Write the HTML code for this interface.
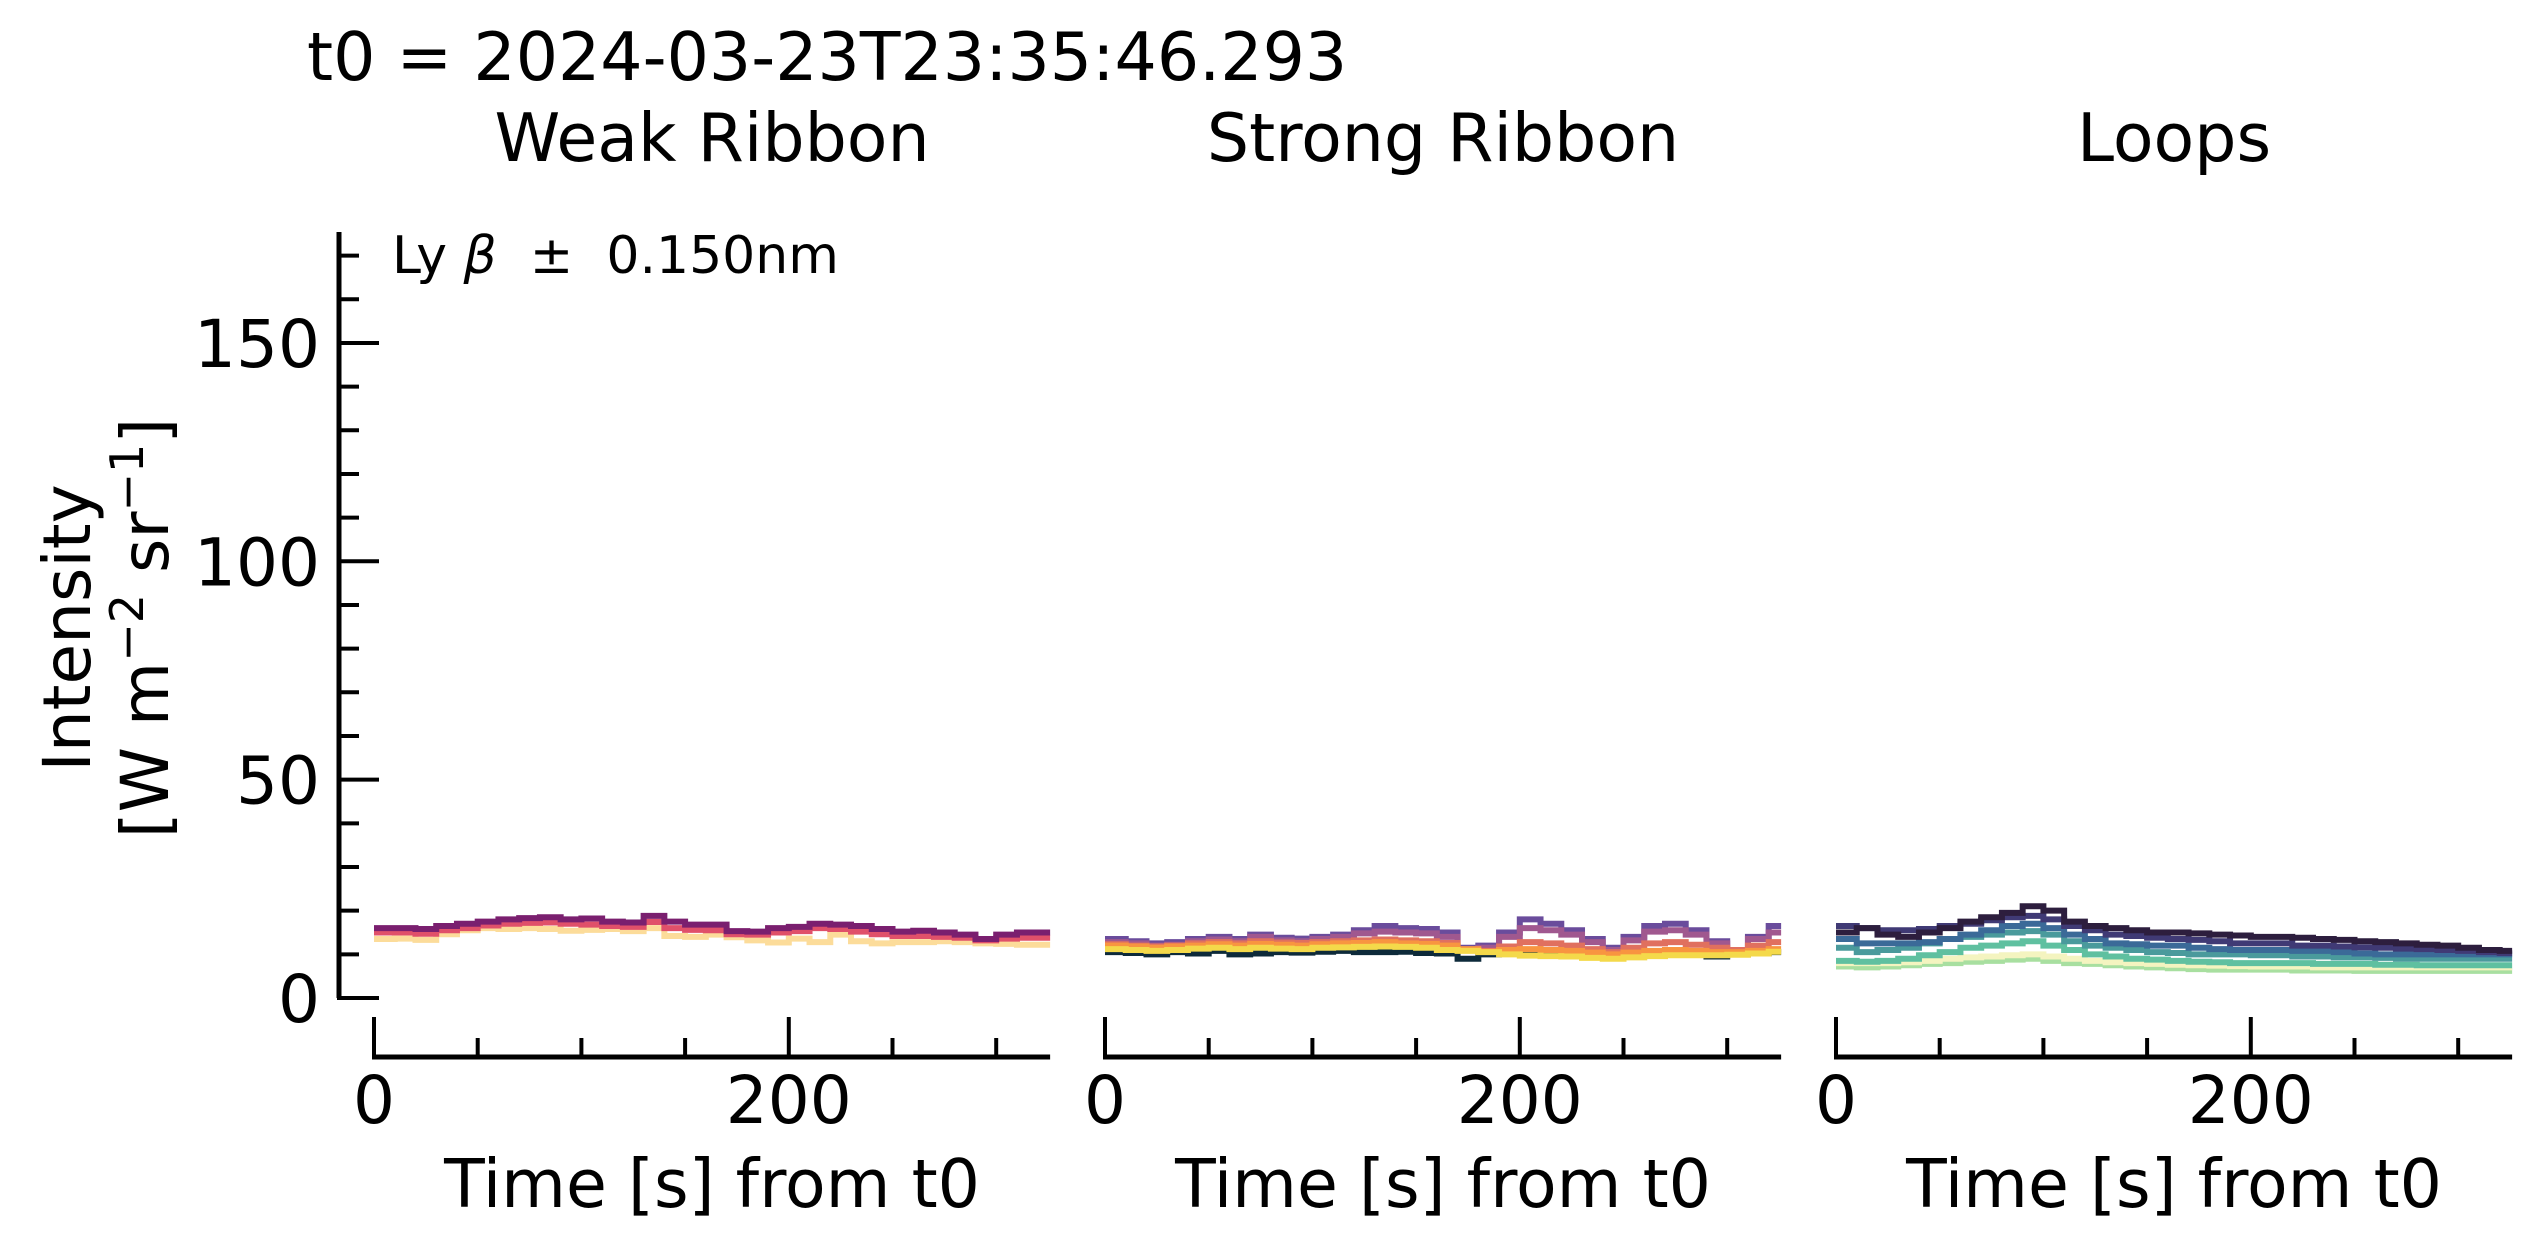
<!DOCTYPE html>
<html><head><meta charset="utf-8"><style>
html,body{margin:0;padding:0;background:#fff;}
svg{display:block;font-family:"DejaVu Sans","Liberation Sans",sans-serif;}
</style></head><body>
<svg id="chart" width="2541" height="1250" viewBox="0 0 2541 1250" xmlns="http://www.w3.org/2000/svg">
<rect width="2541" height="1250" fill="#fff"/>
<text x="307" y="80" font-size="66.5">t0 = 2024-03-23T23:35:46.293</text>
<text transform="translate(90,628) rotate(-90)" text-anchor="middle" font-size="66">Intensity</text>
<text transform="translate(168,628) rotate(-90)" text-anchor="middle" font-size="66">[W m<tspan dy="-25" font-size="46">−2</tspan><tspan dy="25"> sr</tspan><tspan dy="-25" font-size="46">−1</tspan><tspan dy="25">]</tspan></text>
<text x="392" y="273" font-size="52" xml:space="preserve">Ly <tspan font-style="italic">β</tspan>  ±  0.150nm</text>
<g id="plots"></g>
</svg>
<script>
const times=[0,10,20,30,40,50,60,70,80,90,100,110,120,130,140,150,160,170,180,190,200,210,220,230,240,250,260,270,280,290,300,310,320];
const panelTitles=["Weak Ribbon","Strong Ribbon","Loops"];
const yTicks=[0,50,100,150];
const xTicks=[0,200];
// Weak ribbon
const weakYellow=[13.5,13.6,13.3,14.6,15.5,16,15.8,16,15.8,15.4,15.6,15.8,15.3,16,14.2,14,14.5,13.9,13.2,12.7,13.6,12.8,14.5,13,12.5,12.8,12.8,13,12.8,12.5,12.4,12.2,12.2];
const weakPink=[15,15,14.7,15.5,16,16.6,17,17.2,17.3,17,16.8,16.5,16.3,17.4,16,15.6,15.5,14.6,14.5,15,15.3,16,15.8,15.2,14.6,14.2,14.2,14,13.8,13.2,13.6,13.8,13.8];
const weakPurple=[16,16,15.8,16.5,17,17.5,18,18.3,18.5,18,18.2,17.5,17.3,18.8,17.5,16.8,16.8,15.3,15.2,16,16.3,17,16.8,16.5,15.8,15.2,15.4,15,14.5,13.5,14.5,15,15];
// Strong ribbon
const strongNavy=[10.5,10.3,10,10.5,10.2,10.8,10,10.2,10.5,10.4,10.6,10.8,10.5,10.5,10.6,10.3,10.2,9,10,10.5,10.5,10.5,10.5,10.5,10.2,10.5,10.5,10.5,10.3,9.5,10,10.2,10.5];
const strongPurple=[13.5,13,12.5,12.8,13.5,14,13.5,14.5,13.8,13.6,14,14.5,15.5,16.5,16,15.8,15,11.5,12,15,18,17,15.5,13.5,11.5,14,16.5,17,15.5,13,11,14,16.5];
const strongMauve=[12.8,12.5,12,12.2,13,13.4,13,14,13.2,13,13.5,14,14.8,15.2,15,14.8,14,11,11.5,14,16,15.5,14.5,12.8,11,13.2,15.2,15.5,14.5,12.5,11,13.5,15];
const strongSalmon=[12.3,12,11.8,12,12.5,12.8,12.5,13,12.7,12.6,12.8,13,13.2,13.4,13.2,13,12.6,11,10.8,11.8,12.8,12.5,12,11.2,10.5,11.5,12.5,12.8,12.2,11.5,11,12,12.8];
const strongOrange=[12,11.8,11.5,11.8,12,12.3,12,12.4,12.2,12,12.3,12.5,12.6,12.8,12.5,12.4,12,11.2,10.6,11,11.2,11,10.8,10.4,10,10.4,10.8,11,10.8,10.5,10.5,10.8,11.2];
const strongYellow=[11.2,11,10.8,11,11.3,11.5,11.2,11.5,11.3,11.2,11.5,11.6,11.7,11.8,11.7,11.5,11,10.8,10.5,10,9.7,9.6,9.5,9.2,9,9.3,9.6,9.8,9.8,9.8,9.9,10.2,10.6];
// Loops
const loopsLight=[7.2,7,7.2,7.5,7.8,8,8.3,8.5,8.8,9,8.5,8,7.8,7.5,7.2,7,6.8,6.6,6.5,6.5,6.5,6.5,6.3,6.3,6.3,6.2,6.2,6.2,6.2,6.2,6.2,6.2,6.2];
const loopsPale=[8,8,8,8.2,8.5,9,9.3,9.5,9.8,10,9.5,9,8.5,8.2,8,7.8,7.6,7.5,7.4,7.3,7.2,7.2,7.2,7,7,7,7,7,7,7,7,7,7];
const loopsGreen=[8.5,8.3,8.5,9,9.8,10.5,11.5,12,12.5,13,12,11,10,9.5,9,8.8,8.5,8.3,8.2,8,8,8,8,7.8,7.8,7.8,7.6,7.6,7.5,7.5,7.5,7.5,7.5];
const loopsTeal=[11.5,10.5,11,11.5,12.5,13.5,14,14.5,15,15.3,14.5,13,12,11.5,11,10.5,10.3,10,10,10,9.8,9.8,9.5,9.5,9.3,9.3,9.2,9,9,9,9,9,9];
const loopsBlue=[13.5,12.5,12.5,12.5,12.8,13.5,14.5,15.5,16.5,17,16,14.5,13.5,12.5,12.3,12,12,11.5,11.2,11,11,11,10.8,10.8,10.5,10.2,10,10,10,10,10,10,10];
const loopsIndigo=[16.5,16,15.5,15.5,15.8,16.5,17,17.8,18.5,18.8,18,16.5,15.5,14.5,14.2,13.8,13.5,13.3,13,12.5,12.5,12.5,12,12,11.8,11.6,11.5,11.3,11.2,11,10.8,10.5,10.3];
const loopsDark=[15,16,14.5,14,15,16,17.5,18.5,19.5,21,20,17.5,16.5,16,15.5,15,15,14.8,14.5,14.3,14,14,13.8,13.5,13.3,13,12.8,12.5,12.2,12,11.5,11,10.8];

const panels=[
 {x0:374,series:[[weakYellow,"#fcdc9a"],[weakPink,"#e0506a"],[weakPurple,"#7a1f6f"]]},
 {x0:1105,series:[[strongNavy,"#0d2a3a"],[strongPurple,"#6a4c9c"],[strongMauve,"#a0588f"],[strongSalmon,"#e0705f"],[strongOrange,"#f89540"],[strongYellow,"#f4d94a"]]},
 {x0:1836,series:[[loopsLight,"#a8dfa0"],[loopsPale,"#f4f4c0"],[loopsGreen,"#5fc0a0"],[loopsTeal,"#4a9a9c"],[loopsBlue,"#3b6a98"],[loopsIndigo,"#403a75"],[loopsDark,"#2d1e3e"]]}
];
const NS="http://www.w3.org/2000/svg";
const g=document.getElementById("plots");
const XMAX=326, PXS=2.074;
const yScale=v=>998-v*4.367;
function mk(tag,attrs){const e=document.createElementNS(NS,tag);for(const k in attrs)e.setAttribute(k,attrs[k]);g.appendChild(e);return e;}
let ya=mk("line",{x1:339,y1:998,x2:339,y2:232,stroke:"#000","stroke-width":5});


for(let v=0;v<=170;v+=10){
 const major=yTicks.includes(v);
 const t=mk("line",{x1:337,x2:major?379:359,y1:yScale(v),y2:yScale(v),stroke:"#000","stroke-width":4});
 
 
}
yTicks.forEach(v=>{
 const t=mk("text",{x:320,y:yScale(v)+24,"text-anchor":"end","font-size":66});
 t.textContent=v;
 
 
});
panels.forEach((p,i)=>{
 const xs=s=>p.x0+s*PXS;
 const title=mk("text",{x:xs(XMAX/2),y:161,"text-anchor":"middle","font-size":66.5});
 title.textContent=panelTitles[i];
 
 
 p.series.forEach(([vals,col])=>{
  let d="";
  vals.forEach((v,j)=>{const x=xs(times[j]);const y=yScale(v);
   if(j===0)d+=`M${x},${y}`;else d+=`H${x}V${y}`;});
  d+=`H${xs(XMAX)}`;
  const path=mk("path",{d:d,fill:"none",stroke:col,"stroke-width":6,"stroke-linejoin":"miter"});
  
  
 });
 const xa=mk("line",{x1:xs(0)-2,x2:xs(XMAX),y1:1057,y2:1057,stroke:"#000","stroke-width":5});
 
 
 for(let s=0;s<=300;s+=50){
  const major=xTicks.includes(s);
  const t=mk("line",{x1:xs(s),x2:xs(s),y1:1059,y2:major?1017:1038,stroke:"#000","stroke-width":4});
  
  
 }
 xTicks.forEach(s=>{
  const t=mk("text",{x:xs(s),y:1123,"text-anchor":"middle","font-size":66});
  t.textContent=s;
  
  
 });
 const xl=mk("text",{x:xs(XMAX/2),y:1207,"text-anchor":"middle","font-size":66.5});
 xl.textContent="Time [s] from t0";
 
 
});
</script>
</body></html>
